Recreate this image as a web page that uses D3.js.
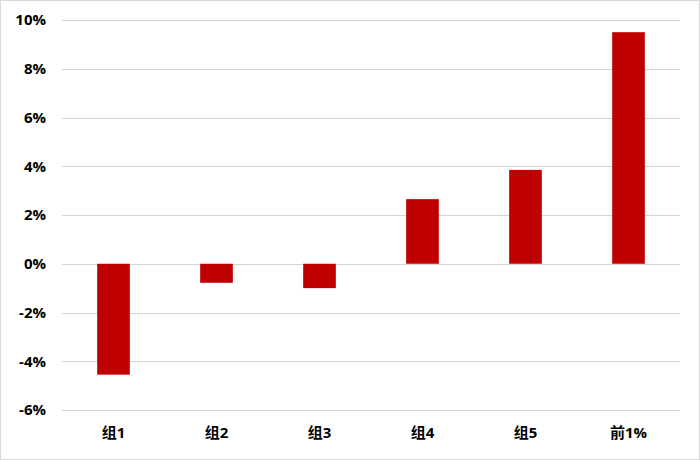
<!DOCTYPE html>
<html>
<head>
<meta charset="utf-8">
<script src="https://cdn.jsdelivr.net/npm/d3@7"></script>
<style>
html,body{margin:0;padding:0;background:#fff;}
svg{display:block;}
</style>
</head>
<body>
<svg id="chart" width="700" height="460"></svg>
<script>
const categories = ["组1", "组2", "组3", "组4", "组5", "前1%"];
const values = [-4.55, -0.78, -1.0, 2.65, 3.85, 9.5];
const yTicks = [-6, -4, -2, 0, 2, 4, 6, 8, 10];

const W = 700, H = 460;
const margin = {left: 62, right: 20, top: 20, bottom: 50};
const svg = d3.select("#chart");
const font = "'Open Sans','Noto Sans CJK SC',sans-serif";

svg.append("rect").attr("x", 0.5).attr("y", 0.5).attr("width", W - 1).attr("height", H - 1)
  .attr("fill", "#fff").attr("stroke", "#d9d9d9");

const x = d3.scaleBand().domain(categories).range([margin.left, W - margin.right]).paddingInner(0.683).paddingOuter(0.3415);
const y = d3.scaleLinear().domain([-6, 10]).range([H - margin.bottom, margin.top]);

// gridlines
svg.append("g").selectAll("line").data(yTicks).join("line")
  .attr("x1", margin.left).attr("x2", W - margin.right)
  .attr("y1", d => Math.round(y(d)) + 0.5).attr("y2", d => Math.round(y(d)) + 0.5)
  .attr("stroke", "#d4d4d4").attr("stroke-width", 1);

// y axis labels
const yAxis = d3.axisLeft(y).tickValues(yTicks).tickFormat(d => d + "%").tickSize(0).tickPadding(0);
const ga = svg.append("g").attr("transform", `translate(${margin.left - 16},0)`).call(yAxis);
ga.select(".domain").remove();
ga.selectAll("text").attr("font-family", font).attr("font-size", 15).attr("font-weight", "bold").attr("fill", "#000");

// bars
svg.append("g").selectAll("rect").data(values).join("rect")
  .attr("x", (d, i) => x(categories[i]))
  .attr("width", x.bandwidth())
  .attr("y", d => y(Math.max(0, d)))
  .attr("height", d => Math.abs(y(d) - y(0)))
  .attr("fill", "#c00000");

// x axis labels
const xAxis = d3.axisBottom(x).tickSize(0).tickPadding(0);
const gx = svg.append("g").attr("transform", `translate(0,${H - margin.bottom + 20})`).call(xAxis);
gx.select(".domain").remove();
gx.selectAll("text").attr("font-family", font).attr("font-size", 15).attr("font-weight", "bold").attr("fill", "#000")
  .attr("dy", "0.55em");
</script>
</body>
</html>
